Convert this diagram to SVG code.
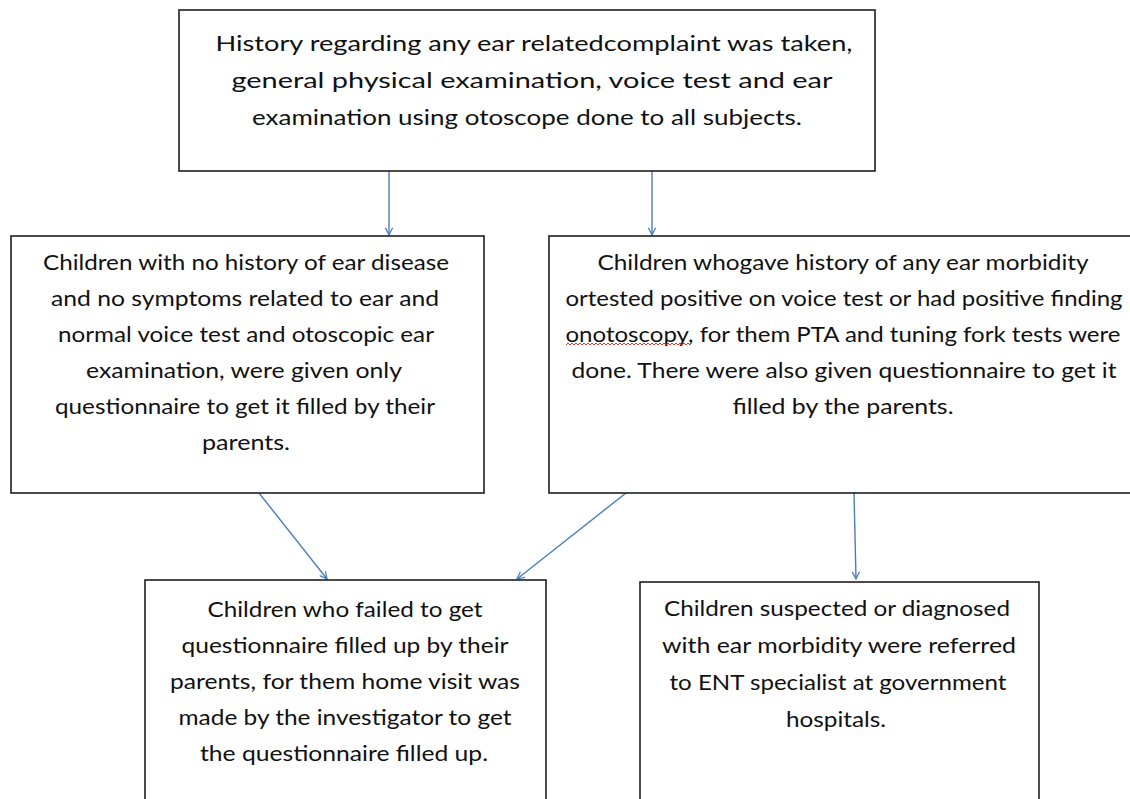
<svg xmlns="http://www.w3.org/2000/svg" width="1130" height="799" viewBox="0 0 1130 799">
<style>
.box{fill:#fff;stroke:#1e1e1e;stroke-width:1.6}
.t{font-family:Lato,"Liberation Sans",sans-serif;font-size:21px;fill:#111;text-anchor:middle}
.c{stroke:#4a7ebb;stroke-width:1.4;fill:none;marker-end:url(#ah)}
</style>
<defs>
<marker id="ah" viewBox="0 0 10 10" refX="9" refY="5" markerWidth="9" markerHeight="9" markerUnits="userSpaceOnUse" orient="auto">
<path d="M1,1 L9,5 L1,9" fill="none" stroke="#4a7ebb" stroke-width="1.4"/>
</marker>
</defs>
<rect width="1130" height="799" fill="#fff"/>
<g id="connectors">
<line class="c" x1="389" y1="171" x2="389" y2="235"/>
<line class="c" x1="652" y1="171" x2="652" y2="235"/>
<line class="c" x1="259" y1="493" x2="327" y2="579"/>
<line class="c" x1="626" y1="493" x2="517" y2="579"/>
<line class="c" x1="854" y1="493" x2="856" y2="579"/>
</g>
<g id="n1">
<rect class="box" x="179" y="10" width="696" height="161"/>
<text class="t" x="534" y="51" textLength="637" lengthAdjust="spacingAndGlyphs">History regarding any ear relatedcomplaint was taken,</text>
<text class="t" x="532" y="88" textLength="601" lengthAdjust="spacingAndGlyphs">general physical examination, voice test and ear</text>
<text class="t" x="527" y="125" textLength="550" lengthAdjust="spacingAndGlyphs">examination using otoscope done to all subjects.</text>
</g>
<g id="n2">
<rect class="box" x="11" y="236" width="473" height="257"/>
<text class="t" x="246" y="270" textLength="406" lengthAdjust="spacingAndGlyphs">Children with no history of ear disease</text>
<text class="t" x="245" y="306" textLength="388" lengthAdjust="spacingAndGlyphs">and no symptoms related to ear and</text>
<text class="t" x="246" y="342" textLength="376" lengthAdjust="spacingAndGlyphs">normal voice test and otoscopic ear</text>
<text class="t" x="244" y="378" textLength="316" lengthAdjust="spacingAndGlyphs">examination, were given only</text>
<text class="t" x="245" y="414" textLength="380" lengthAdjust="spacingAndGlyphs">questionnaire to get it filled by their</text>
<text class="t" x="246" y="450" textLength="88" lengthAdjust="spacingAndGlyphs">parents.</text>
</g>
<g id="n3">
<rect class="box" x="549" y="236" width="590" height="257"/>
<text class="t" x="843" y="270" textLength="491" lengthAdjust="spacingAndGlyphs">Children whogave history of any ear morbidity</text>
<text class="t" x="844" y="306" textLength="557" lengthAdjust="spacingAndGlyphs">ortested positive on voice test or had positive finding</text>
<text class="t" x="843" y="342" textLength="555" lengthAdjust="spacingAndGlyphs">onotoscopy, for them PTA and tuning fork tests were</text>
<text class="t" x="844" y="378" textLength="545" lengthAdjust="spacingAndGlyphs">done. There were also given questionnaire to get it</text>
<text class="t" x="843" y="414" textLength="221" lengthAdjust="spacingAndGlyphs">filled by the parents.</text>
<path d="M566,345 l2,-2 l2,2 l2,-2 l2,2 l2,-2 l2,2 l2,-2 l2,2 l2,-2 l2,2 l2,-2 l2,2 l2,-2 l2,2 l2,-2 l2,2 l2,-2 l2,2 l2,-2 l2,2 l2,-2 l2,2 l2,-2 l2,2 l2,-2 l2,2 l2,-2 l2,2 l2,-2 l2,2 l2,-2 l2,2 l2,-2 l2,2 l2,-2 l2,2 l2,-2 l2,2 l2,-2 l2,2 l2,-2 l2,2 l2,-2 l2,2 l2,-2 l2,2 l2,-2 l2,2 l2,-2 l2,2 l2,-2 l2,2 l2,-2 l2,2 l2,-2 l2,2 l2,-2 l2,2 l2,-2 l2,2 l2,-2 l2,2" fill="none" stroke="#e0201b" stroke-width="0.9"/>
</g>
<g id="n4">
<rect class="box" x="145" y="580" width="401" height="230"/>
<text class="t" x="345" y="617" textLength="275" lengthAdjust="spacingAndGlyphs">Children who failed to get</text>
<text class="t" x="345" y="653" textLength="327" lengthAdjust="spacingAndGlyphs">questionnaire filled up by their</text>
<text class="t" x="345" y="689" textLength="350" lengthAdjust="spacingAndGlyphs">parents, for them home visit was</text>
<text class="t" x="345" y="725" textLength="333" lengthAdjust="spacingAndGlyphs">made by the investigator to get</text>
<text class="t" x="344" y="761" textLength="288" lengthAdjust="spacingAndGlyphs">the questionnaire filled up.</text>
</g>
<g id="n5">
<rect class="box" x="640" y="582" width="399" height="228"/>
<text class="t" x="837" y="616" textLength="346" lengthAdjust="spacingAndGlyphs">Children suspected or diagnosed</text>
<text class="t" x="839" y="653" textLength="354" lengthAdjust="spacingAndGlyphs">with ear morbidity were referred</text>
<text class="t" x="838" y="690" textLength="337" lengthAdjust="spacingAndGlyphs">to ENT specialist at government</text>
<text class="t" x="836" y="727" textLength="100" lengthAdjust="spacingAndGlyphs">hospitals.</text>
</g>
</svg>
